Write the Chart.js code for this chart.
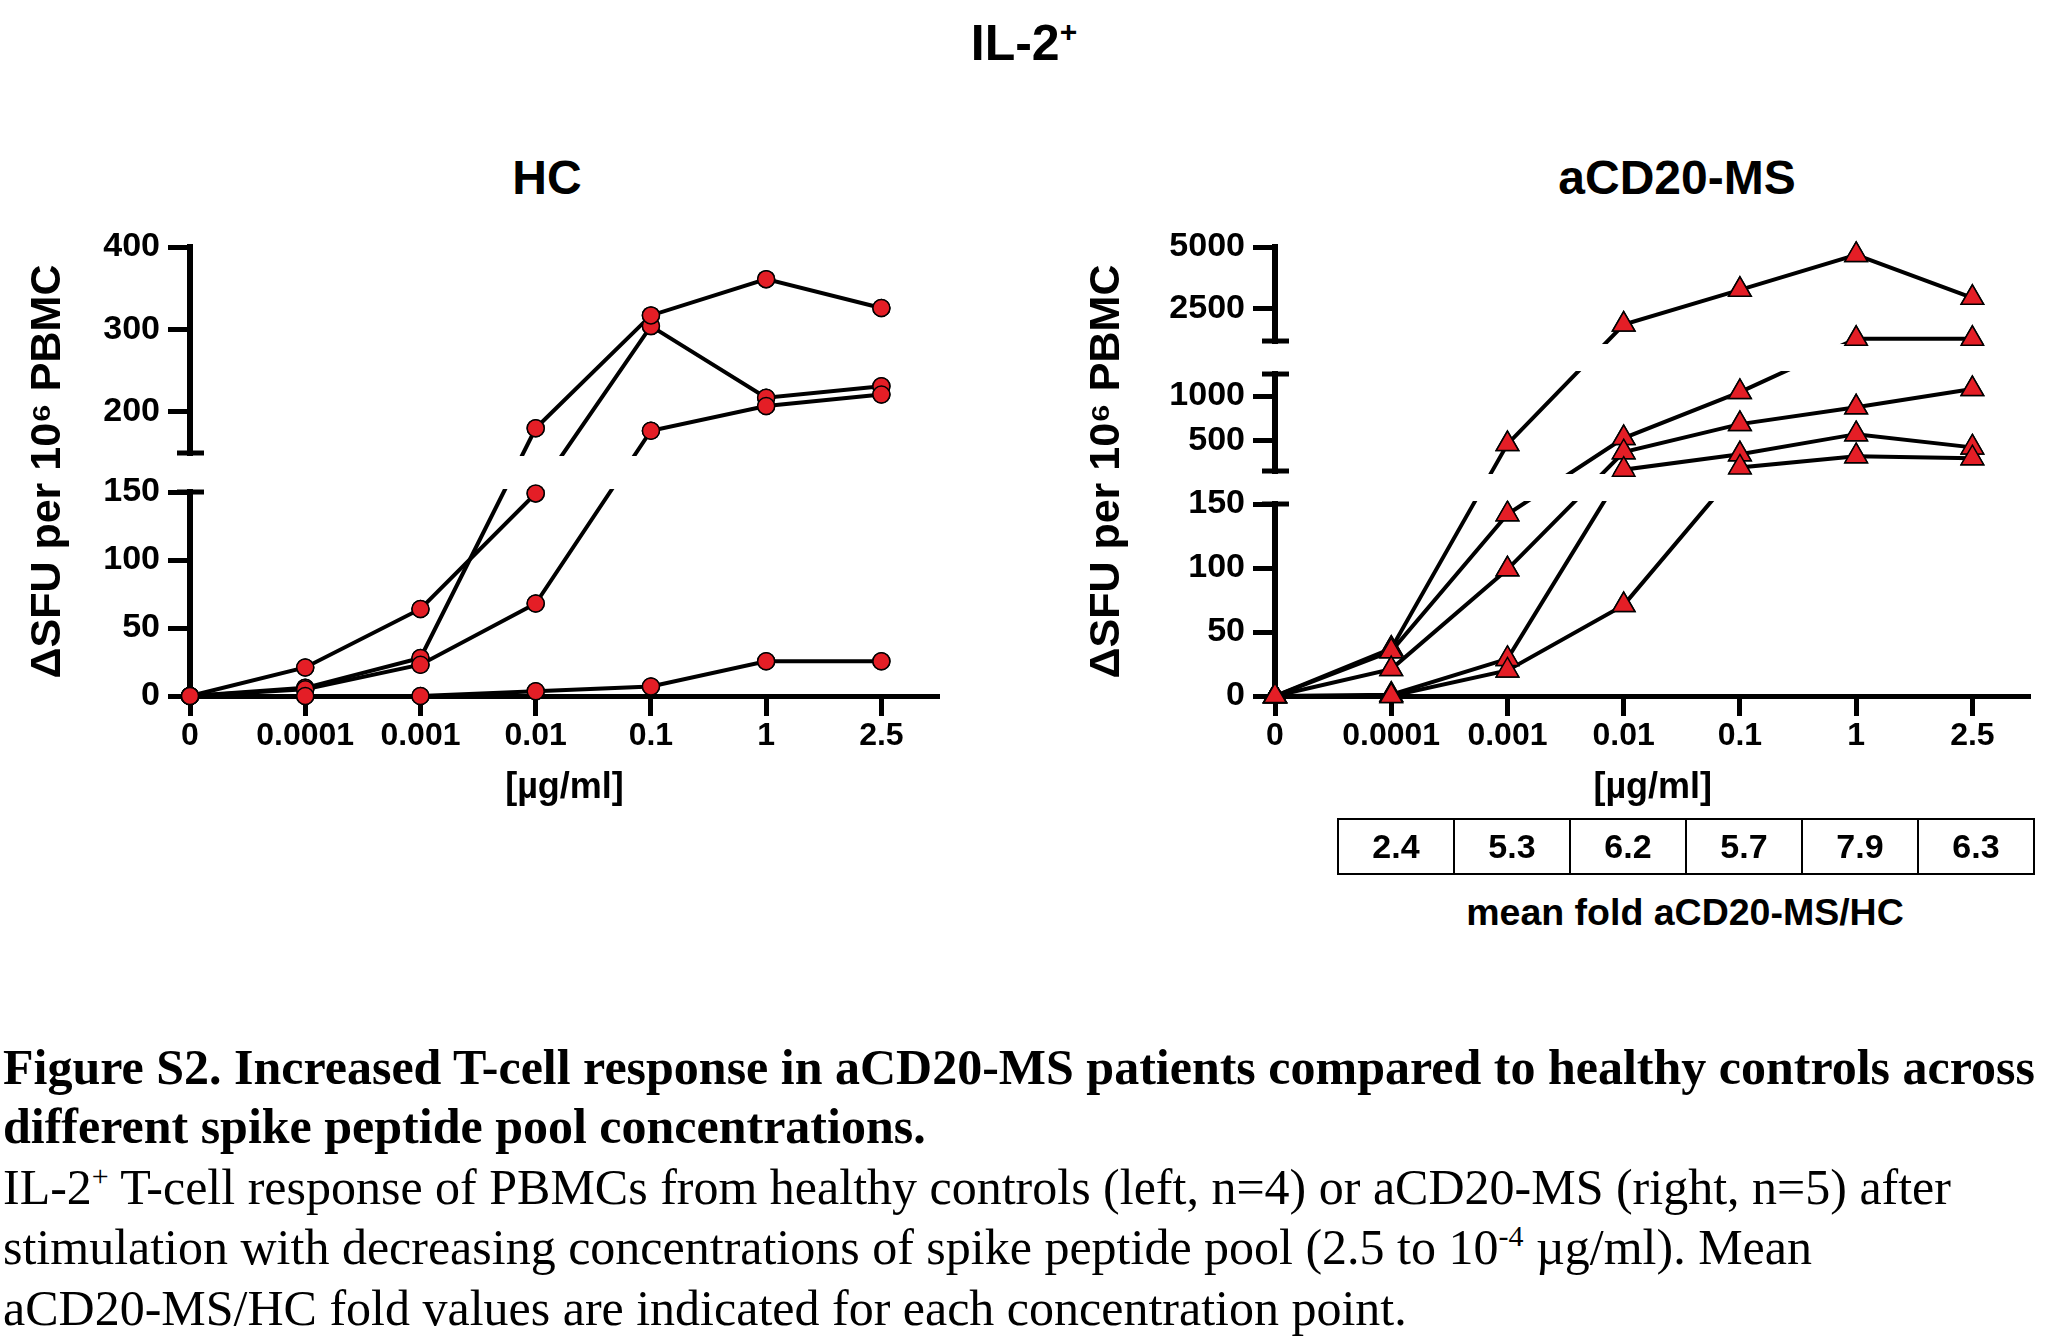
<!DOCTYPE html>
<html>
<head>
<meta charset="utf-8">
<script src="https://cdn.jsdelivr.net/npm/chart.js@4.4.1/dist/chart.umd.min.js"></script>
<style>
  html, body { margin: 0; padding: 0; background: #fff; width: 2045px; height: 1340px; overflow: hidden; }
  body { position: relative; font-family: 'Liberation Sans', Arial, sans-serif; color: #000; }
  .abs { position: absolute; }
  .ttl { font-weight: bold; transform: translate(-50%, -50%); white-space: nowrap; }
  #mainTitle { left: 1024px; top: 43px; font-size: 50px; }
  #hcTitle { left: 547px; top: 177px; font-size: 48px; }
  #msTitle { left: 1677px; top: 177px; font-size: 48px; }
  canvas { position: absolute; }
  #foldTable { left: 1337px; top: 818px; width: 698px; height: 57px; display: flex; border: 2px solid #000; box-sizing: border-box; }
  .cell { flex: 1; border-left: 2px solid #000; display: flex; align-items: center; justify-content: center; font-weight: bold; font-size: 34px; }
  .cell:first-child { border-left: none; }
  #foldLabel { left: 1685px; top: 912px; font-size: 37.5px; }
  .cap { left: 3px; font-family: 'Liberation Serif', 'Times New Roman', serif; font-size: 50px; white-space: nowrap; line-height: 1; transform: translateY(-50%); }
  .cap.b { font-weight: bold; }
  sup { font-size: 0.6em; vertical-align: 0.6em; line-height: 0; }
</style>
</head>
<body>
<div id="mainTitle" class="abs ttl">IL-2<sup>+</sup></div>
<div id="hcTitle" class="abs ttl">HC</div>
<div id="msTitle" class="abs ttl">aCD20-MS</div>

<canvas id="hcChart" width="1000" height="620" style="left:0px; top:200px;"></canvas>
<canvas id="msChart" width="995" height="620" style="left:1050px; top:200px;"></canvas>

<div id="foldTable" class="abs"></div>
<div id="foldLabel" class="abs ttl">mean fold aCD20-MS/HC</div>

<div class="abs cap b" style="top:1067px;">Figure S2. Increased T-cell response in aCD20-MS patients compared to healthy controls across</div>
<div class="abs cap b" style="top:1126px;">different spike peptide pool concentrations.</div>
<div class="abs cap" style="top:1187px;">IL-2<sup>+</sup> T-cell response of PBMCs from healthy controls (left, n=4) or aCD20-MS (right, n=5) after</div>
<div class="abs cap" style="top:1247px;">stimulation with decreasing concentrations of spike peptide pool (2.5 to 10<sup>-4</sup> µg/ml). Mean</div>
<div class="abs cap" style="top:1308px;">aCD20-MS/HC fold values are indicated for each concentration point.</div>

<script>
// peptide pool concentrations (µg/ml)
const concLabels = ['0', '0.0001', '0.001', '0.01', '0.1', '1', '2.5'];

// healthy controls, n=4
const hc1 = [0, 21, 64, 149, 304, 217, 231];
const hc2 = [0, 6, 28, 180, 317, 361, 326];
const hc3 = [0, 5, 23, 68, 177, 207, 221];
const hc4 = [0, 0, 0, 3.5, 7, 25.6, 25.6];

// aCD20-MS patients, n=5
const ms1 = [0, 37, 455, 1865, 3270, 4680, 2945];
const ms2 = [0, 35, 142, 523, 1045, 1290, 1290];
const ms3 = [0, 21, 99, 364, 682, 873, 1080];
const ms4 = [0, 1, 29, 165, 340, 568, 418];
const ms5 = [0, 0, 20, 71, 190, 318, 295];

// mean fold aCD20-MS/HC per concentration (0.0001 .. 2.5)
const foldValues = ['2.4', '5.3', '6.2', '5.7', '7.9', '6.3'];

const hcTicks = [0, 50, 100, 150, 200, 300, 400];
const msTicks = [0, 50, 100, 150, 500, 1000, 2500, 5000];

// broken axis segments: value range -> share of the axis height
const hcSegs = [
  { lo: 0, hi: 150, f0: 0, f1: 0.4543 },
  { lo: 150, hi: 400, f0: 0.5412, f1: 1 }
];
const msSegs = [
  { lo: 0, hi: 150, f0: 0, f1: 0.4276 },
  { lo: 150, hi: 1250, f0: 0.5011, f1: 0.7171 },
  { lo: 1200, hi: 5000, f0: 0.7906, f1: 1 }
];

const FONT = 'Liberation Sans, Arial, sans-serif';
const RED = '#E41E26';

function toFrac(v, segs) {
  for (const s of segs) {
    if (v <= s.hi) return s.f0 + (Math.max(v, s.lo) - s.lo) / (s.hi - s.lo) * (s.f1 - s.f0);
  }
  return segs[segs.length - 1].f1;
}

// white out the gaps, draw the break caps, then put the markers back on top
const brokenAxis = {
  id: 'brokenAxis',
  afterDatasetsDraw(chart, args, opts) {
    const { ctx, chartArea } = chart;
    const y = chart.scales.y;
    const segs = opts.segs;
    const ax = chartArea.left;
    ctx.save();
    for (let i = 0; i < segs.length - 1; i++) {
      const pLow = y.getPixelForValue(segs[i].f1);
      const pHigh = y.getPixelForValue(segs[i + 1].f0);
      ctx.fillStyle = '#fff';
      ctx.fillRect(ax - 20, pHigh + 3, chartArea.right - ax + 40, pLow - pHigh - 6);
      ctx.strokeStyle = '#000';
      ctx.lineWidth = 5;
      [pLow, pHigh].forEach(p => {
        ctx.beginPath();
        ctx.moveTo(ax - 13, p);
        ctx.lineTo(ax + 14, p);
        ctx.stroke();
      });
    }
    ctx.restore();
    chart.data.datasets.forEach((d, i) => {
      chart.getDatasetMeta(i).data.forEach(pt => pt.draw(ctx, chartArea));
    });
  }
};

function makeChart(id, series, yTicks, segs, style, radius, yWidth, rightPad, titlePad) {
  const datasets = series.map(s => ({
    data: s.map((v, i) => ({ x: i, y: toFrac(v, segs) })),
    borderColor: '#000',
    borderWidth: 4,
    pointStyle: style,
    pointRadius: radius,
    pointBackgroundColor: RED,
    pointBorderColor: '#000',
    pointBorderWidth: 1.5,
    tension: 0,
    clip: false
  }));

  return new Chart(document.getElementById(id), {
    type: 'line',
    data: { datasets: datasets },
    plugins: [brokenAxis],
    options: {
      responsive: false,
      animation: false,
      layout: { padding: { top: 47, right: rightPad, left: 0, bottom: 0 } },
      plugins: {
        legend: { display: false },
        tooltip: { enabled: false },
        brokenAxis: { segs: segs }
      },
      scales: {
        x: {
          type: 'linear',
          min: 0,
          max: 6.5,
          afterBuildTicks: s => { s.ticks = concLabels.map((_, i) => ({ value: i })); },
          afterFit: s => { s.height = 124; },
          ticks: {
            callback: (v, i) => concLabels[i],
            font: { family: FONT, size: 32, weight: 'bold' },
            color: '#000',
            padding: 1,
            maxRotation: 0,
            autoSkip: false
          },
          grid: { drawOnChartArea: false, drawTicks: true, tickLength: 20, tickWidth: 5, tickColor: '#000' },
          border: { display: true, width: 5, color: '#000' },
          title: {
            display: true,
            text: '[µg/ml]',
            font: { family: FONT, size: 36, weight: 'bold' },
            color: '#000',
            padding: { top: 0, bottom: 10 }
          }
        },
        y: {
          type: 'linear',
          min: 0,
          max: 1,
          afterBuildTicks: s => { s.ticks = yTicks.map(v => ({ value: toFrac(v, segs) })); },
          afterFit: s => { s.width = yWidth; },
          ticks: {
            callback: (v, i) => String(yTicks[i]),
            font: { family: FONT, size: 34, weight: 'bold' },
            color: '#000',
            padding: 8,
            autoSkip: false
          },
          grid: { drawOnChartArea: false, drawTicks: true, tickLength: 22, tickWidth: 5, tickColor: '#000' },
          border: { display: true, width: 6, color: '#000' },
          title: {
            display: true,
            text: '\u0394SFU per 10\u2076 PBMC',
            font: { family: FONT, size: 43, weight: 'bold' },
            color: '#000',
            padding: { top: titlePad, bottom: 0 }
          }
        }
      }
    }
  });
}

makeChart('hcChart', [hc1, hc2, hc3, hc4], hcTicks, hcSegs, 'circle', 8.5, 190, 61, 22);
makeChart('msChart', [ms1, ms2, ms3, ms4, ms5], msTicks, msSegs, 'triangle', 13, 225, 3, 31);

// fold table under the right panel
const table = document.getElementById('foldTable');
foldValues.forEach(v => {
  const c = document.createElement('div');
  c.className = 'cell';
  c.textContent = v;
  table.appendChild(c);
});
</script>
</body>
</html>
